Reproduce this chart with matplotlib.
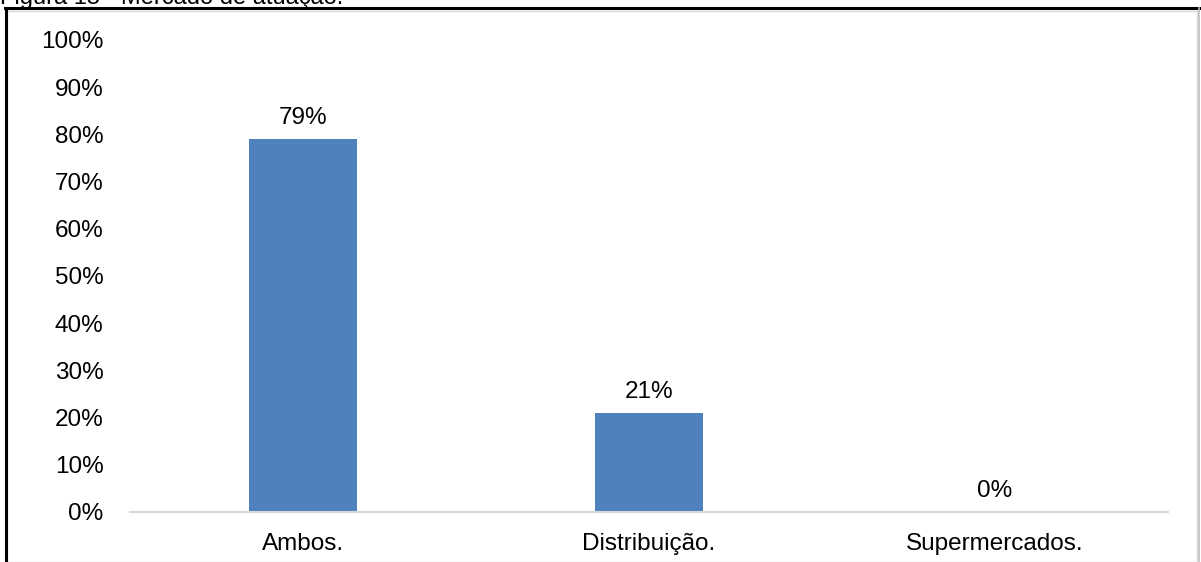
import matplotlib
matplotlib.use("Agg")
import matplotlib.pyplot as plt
from matplotlib.lines import Line2D
from matplotlib.patches import Rectangle

categories = ["Ambos.", "Distribuição.", "Supermercados."]
values = [79, 21, 0]
yticks = [0, 10, 20, 30, 40, 50, 60, 70, 80, 90, 100]
caption = "Figura 15 - Mercado de atuação."

plt.rcParams['font.family'] = ['Liberation Sans', 'DejaVu Sans']

W, H = 1201, 562
fig = plt.figure(figsize=(W / 100, H / 100), dpi=100)

# axes placement in pixels
x0, x1 = 130, 1168
ybot, ytop = 512, 40
ax = fig.add_axes([x0 / W, 1 - ybot / H, (x1 - x0) / W, (ybot - ytop) / H])

bar_color = "#4f81bd"
xs = range(len(categories))
ax.bar(xs, values, width=0.31, color=bar_color, zorder=2)
ax.set_xlim(-0.5, len(categories) - 0.5)
ax.set_ylim(0, 100)

ax.set_yticks(yticks)
ax.set_yticklabels([f"{v}%" for v in yticks], fontsize=17.5, color="#000000")
ax.set_xticks(list(xs))
ax.set_xticklabels(categories, fontsize=17.5, color="#000000")
ax.tick_params(axis='y', length=0, pad=19)
ax.tick_params(axis='x', length=0, pad=15)

for s in ["top", "right", "left"]:
    ax.spines[s].set_visible(False)
ax.spines["bottom"].set_color("#d9d9d9")
ax.spines["bottom"].set_linewidth(1.5)
ax.patch.set_alpha(0)

for x, v in zip(xs, values):
    ax.annotate(f"{v}%", xy=(x, v), xytext=(0, 7), textcoords="offset points",
                ha="center", va="bottom", fontsize=17.5, color="#000000")

# frame
fig.add_artist(Rectangle((7 / W, 0), (1197 - 7) / W, 1 - 11 / H, transform=fig.transFigure,
                         fill=False, edgecolor="#d9d9d9", linewidth=1.0))
fig.add_artist(Line2D([5.5 / W, 5.5 / W], [0, 1 - 7.5 / H], transform=fig.transFigure,
                      color="black", linewidth=2.2))
fig.add_artist(Line2D([5 / W, 1 - 2 / W], [1 - 8 / H, 1 - 8 / H], transform=fig.transFigure,
                      color="black", linewidth=2.2))
fig.add_artist(Line2D([1 - 2 / W, 1 - 2 / W], [0, 1 - 8 / H], transform=fig.transFigure,
                      color="#bfbfbf", linewidth=1.2))

fig.text(0, 1 - 4 / H, caption, ha="left", va="baseline", fontsize=17, color="#000000")

fig.savefig("out.png", dpi=100)
